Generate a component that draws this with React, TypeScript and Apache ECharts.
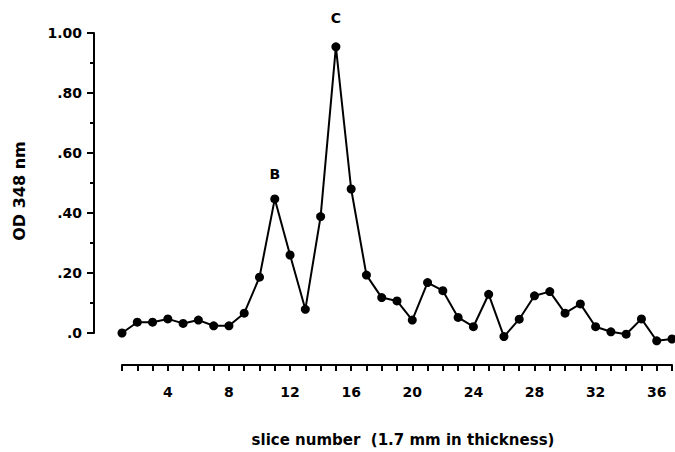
import React, { useEffect, useRef } from "react";
import * as echarts from "echarts";

const slices = [
  1, 2, 3, 4, 5, 6, 7, 8, 9, 10, 11, 12, 13, 14, 15, 16, 17, 18, 19, 20,
  21, 22, 23, 24, 25, 26, 27, 28, 29, 30, 31, 32, 33, 34, 35, 36, 37,
];
const od = [
  0.0, 0.036, 0.036, 0.047, 0.032, 0.043, 0.024, 0.024, 0.066, 0.186,
  0.447, 0.26, 0.079, 0.388, 0.954, 0.48, 0.193, 0.118, 0.107, 0.043,
  0.168, 0.141, 0.052, 0.021, 0.129, -0.012, 0.046, 0.124, 0.138, 0.066,
  0.097, 0.021, 0.004, -0.004, 0.047, -0.026, -0.02,
];
const peakSlices = [11, 15];
const peakNames = ["B", "C"];
const yTickLabels = [".0", ".20", ".40", ".60", ".80", "1.00"];
const xTickLabels = ["4", "8", "12", "16", "20", "24", "28", "32", "36"];
const xAxisTitle = "slice number  (1.7 mm in thickness)";
const yAxisTitle = "OD 348 nm";

const FONT = "DejaVu Sans";

export default function App() {
  const ref = useRef<HTMLDivElement>(null);

  useEffect(() => {
    if (!ref.current) return;
    const chart = echarts.init(ref.current, undefined, { renderer: "svg" });

    const data = slices.map((s, i) => {
      const pi = peakSlices.indexOf(s);
      if (pi >= 0) {
        return {
          value: [s, od[i]],
          label: {
            show: true,
            position: "top",
            distance: pi === 0 ? 13 : 17,
            formatter: peakNames[pi],
            color: "#000",
            fontFamily: FONT,
            fontWeight: "bold",
            fontSize: 14,
          },
        };
      }
      return { value: [s, od[i]] };
    });

    chart.setOption({
      animation: false,
      backgroundColor: "#fff",
      grid: { left: 122, right: 1, top: 33, bottom: 119 },
      xAxis: {
        type: "value",
        min: 1,
        max: 37,
        interval: 1,
        offset: 32,
        axisLine: { show: true, onZero: false, lineStyle: { color: "#000", width: 2 } },
        axisTick: { show: true, length: 6, lineStyle: { color: "#000", width: 2 } },
        splitLine: { show: false },
        axisLabel: {
          margin: 20,
          color: "#000",
          fontFamily: FONT,
          fontWeight: "bold",
          fontSize: 14,
          formatter: (v: number) => {
            const s = String(Math.round(v));
            return xTickLabels.indexOf(s) >= 0 ? s : "";
          },
        },
      },
      yAxis: {
        type: "value",
        min: 0,
        max: 1,
        interval: 0.2,
        offset: 28,
        axisLine: { show: true, onZero: false, lineStyle: { color: "#000", width: 2 } },
        axisTick: { show: true, length: 7, lineStyle: { color: "#000", width: 2 } },
        minorTick: { show: true, splitNumber: 2, length: 4, lineStyle: { color: "#000", width: 2 } },
        splitLine: { show: false },
        minorSplitLine: { show: false },
        axisLabel: {
          margin: 12,
          color: "#000",
          fontFamily: FONT,
          fontWeight: "bold",
          fontSize: 14,
          formatter: (_v: number, idx: number) => yTickLabels[idx] ?? "",
        },
      },
      graphic: [
        {
          type: "text",
          x: 19,
          y: 191,
          rotation: Math.PI / 2,
          style: {
            text: yAxisTitle,
            fill: "#000",
            font: `bold 16px "${FONT}"`,
            align: "center",
            verticalAlign: "middle",
          },
        },
        {
          type: "text",
          x: 403,
          y: 440,
          style: {
            text: xAxisTitle,
            fill: "#000",
            font: `bold 15px "${FONT}"`,
            align: "center",
            verticalAlign: "middle",
          },
        },
      ],
      series: [
        {
          type: "line",
          data,
          clip: false,
          symbol: "circle",
          symbolSize: 9,
          itemStyle: { color: "#000" },
          lineStyle: { color: "#000", width: 2 },
        },
      ],
    });

    return () => chart.dispose();
  }, []);

  return (
    <div
      ref={ref}
      style={{ position: "absolute", left: 0, top: 0, width: 675, height: 452 }}
    />
  );
}
